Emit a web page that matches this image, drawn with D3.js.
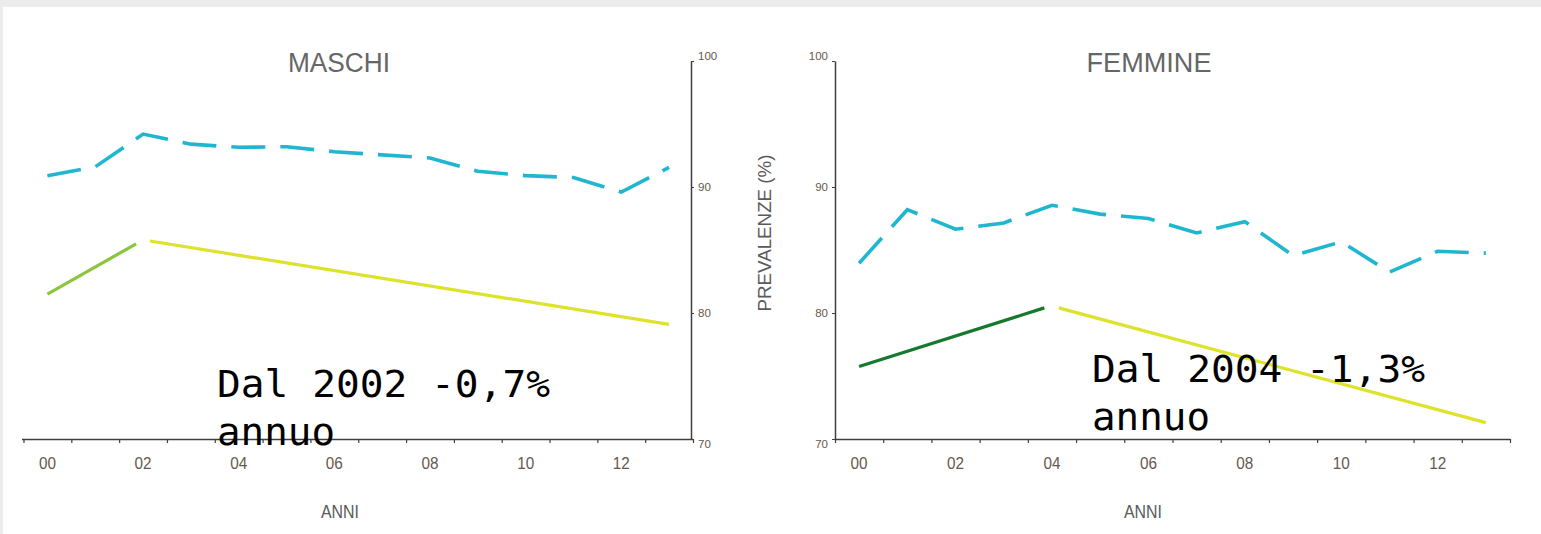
<!DOCTYPE html>
<html>
<head>
<meta charset="utf-8">
<script src="https://cdn.jsdelivr.net/npm/d3@7"></script>
<style>
  html, body { margin: 0; padding: 0; background: #ececec; }
  svg { display: block; }
  .lbl { font-family: "Liberation Sans Narrow", "Liberation Sans", "DejaVu Sans Condensed", sans-serif; }
</style>
</head>
<body>
<svg id="chart" width="1541" height="534"></svg>
<script>
// ---------------- data ----------------
const years = [0,1,2,3,4,5,6,7,8,9,10,11,12,13];
const yearTickLabels = [0,2,4,6,8,10,12];
const yTicks = [70,80,90,100];

// MASCHI
const maleObserved = [90.9,91.6,94.2,93.4,93.15,93.2,92.8,92.55,92.3,91.25,90.9,90.75,89.6,91.55];
const maleTrendUpYears = [0,2];
const maleTrendUp = [81.5,85.8];
const maleTrendDownYears = [2,13];
const maleTrendDown = [85.8,79.1];

// FEMMINE
const femaleObserved = [83.95,88.2,86.65,87.15,88.55,87.85,87.5,86.35,87.25,84.55,85.65,83.25,84.9,84.75];
const femaleTrendUpYears = [0,4];
const femaleTrendUp = [75.75,80.6];
const femaleTrendDownYears = [4,13];
const femaleTrendDown = [80.55,71.3];

const titles = ["MASCHI","FEMMINE"];
const annotations = [["Dal 2002 -0,7%","annuo"],["Dal 2004 -1,3%","annuo"]];

// ---------------- drawing ----------------
const svg = d3.select("#chart");
svg.append("rect").attr("x",3).attr("y",7).attr("width",1538).attr("height",527).attr("fill","#ffffff");

const cyan = "#1fb7d0", yellow = "#dde22b", lightGreen = "#8cc63f", darkGreen = "#16792d";
const axisColor = "#3f3f3f", tickText = "#66584b", titleColor = "#666666";

function panel(cfg) {
  const g = svg.append("g");
  const x = d3.scaleBand().domain(years).range(cfg.xRange).paddingInner(0).paddingOuter(0);
  const xc = d => x(d) + x.bandwidth()/2;
  const y = d3.scaleLinear().domain([70,100]).range([439,61]);
  const xb = d3.scaleLinear().domain([-0.5,13.5]).range(cfg.xRange);

  // x axis: ticks at year boundaries
  const xAxisG = g.append("g").attr("transform","translate(0,439)")
    .call(d3.axisBottom(xb).tickValues(d3.range(-0.5,13.51,1)).tickSize(4).tickSizeOuter(0).tickFormat(""));
  xAxisG.select(".domain").attr("stroke",axisColor).attr("stroke-width",1.5)
    .attr("d",`M${cfg.xLineStart},0.5H${cfg.xRange[1]}`);
  xAxisG.selectAll(".tick line").attr("stroke",axisColor).attr("stroke-width",1.2);

  const xLab = g.append("g").attr("transform","translate(0,439)")
    .call(d3.axisBottom(x).tickValues(yearTickLabels).tickSize(0).tickPadding(19).tickFormat(d3.format("02d")));
  xLab.select(".domain").remove();
  xLab.selectAll("text").attr("class","lbl").attr("font-size",16).attr("fill",tickText)
    .attr("textLength",17).attr("lengthAdjust","spacingAndGlyphs");

  // y axis
  const yAxis = cfg.side === "right" ? d3.axisRight(y) : d3.axisLeft(y);
  const yAxisG = g.append("g").attr("transform",`translate(${cfg.yAxisX},0)`)
    .call(yAxis.tickValues(yTicks).tickSize(3).tickSizeOuter(0).tickPadding(4));
  yAxisG.select(".domain").attr("stroke",axisColor).attr("stroke-width",1.5);
  yAxisG.selectAll(".tick line").attr("stroke",axisColor);
  yAxisG.selectAll("text").attr("class","lbl").attr("font-size",11.5).attr("fill",tickText)
    .attr("dy", d => d === 100 ? "-0.1em" : d === 70 ? "0.75em" : "0.32em");

  const line = d3.line().x(d => xc(d[0])).y(d => y(d[1]));

  // observed (dashed)
  g.append("path").datum(years.map((yr,i)=>[yr,cfg.observed[i]]))
    .attr("d",line).attr("fill","none").attr("stroke",cyan).attr("stroke-width",3.6)
    .attr("stroke-dasharray","34,15");

  // trend up
  const up = g.append("path").datum(cfg.upYears.map((yr,i)=>[yr,cfg.up[i]]))
    .attr("d",line).attr("fill","none").attr("stroke",cfg.upColor).attr("stroke-width",3.2);
  const Lu = up.node().getTotalLength();
  up.attr("stroke-dasharray",`${Lu-8},1000`);

  // trend down
  const down = g.append("path").datum(cfg.downYears.map((yr,i)=>[yr,cfg.down[i]]))
    .attr("d",line).attr("fill","none").attr("stroke",yellow).attr("stroke-width",3.2);
  const Ld = down.node().getTotalLength();
  down.attr("stroke-dasharray",`0,7,${Ld},0`);

  // title
  g.append("text").attr("class","lbl").attr("x",cfg.titleX).attr("y",72)
    .attr("text-anchor","middle").attr("font-size",27).attr("fill",titleColor)
    .attr("textLength",cfg.titleW).attr("lengthAdjust","spacingAndGlyphs").text(cfg.title);

  // x label
  g.append("text").attr("class","lbl").attr("x",cfg.anniX).attr("y",518)
    .attr("text-anchor","middle").attr("font-size",19).attr("fill","#5a5a5a")
    .attr("textLength",38).attr("lengthAdjust","spacingAndGlyphs").text("ANNI");

  // annotation
  const ann = g.append("text").attr("font-family","'DejaVu Sans Mono', monospace")
    .attr("font-size",37).attr("fill","#000");
  ann.append("tspan").attr("x",cfg.annX).attr("y",cfg.annY)
    .attr("textLength",333).attr("lengthAdjust","spacingAndGlyphs").text(cfg.ann[0]);
  ann.append("tspan").attr("x",cfg.annX).attr("y",cfg.annY+48)
    .attr("textLength",118).attr("lengthAdjust","spacingAndGlyphs").text(cfg.ann[1]);
}

panel({
  xRange:[23.5,693], xLineStart:22, yAxisX:691, side:"right",
  observed: maleObserved, upYears: maleTrendUpYears, up: maleTrendUp, upColor: lightGreen,
  downYears: maleTrendDownYears, down: maleTrendDown,
  title: titles[0], titleX: 339, titleW: 102, anniX: 340,
  ann: annotations[0], annX: 217, annY: 397
});
panel({
  xRange:[835,1510], xLineStart:835, yAxisX:835, side:"left",
  observed: femaleObserved, upYears: femaleTrendUpYears, up: femaleTrendUp, upColor: darkGreen,
  downYears: femaleTrendDownYears, down: femaleTrendDown,
  title: titles[1], titleX: 1149, titleW: 125, anniX: 1143,
  ann: annotations[1], annX: 1092, annY: 382
});

// shared y label
svg.append("text").attr("class","lbl")
  .attr("transform","translate(771,233) rotate(-90)")
  .attr("text-anchor","middle").attr("font-size",18).attr("fill","#5a5a5a")
  .attr("textLength",157).attr("lengthAdjust","spacingAndGlyphs").text("PREVALENZE (%)");
</script>
</body>
</html>
